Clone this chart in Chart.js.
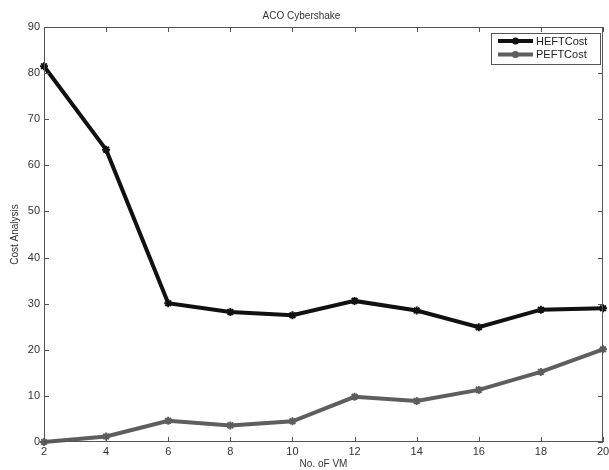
<!DOCTYPE html>
<html>
<head>
<meta charset="utf-8">
<script src="https://cdn.jsdelivr.net/npm/chart.js@4.4.1/dist/chart.umd.min.js"></script>
<style>
html,body{margin:0;padding:0;background:#fff;}
#wrap{width:609px;height:470px;}
</style>
</head>
<body>
<div id="wrap"><canvas id="c" width="609" height="470"></canvas></div>
<script>
const vmCounts = [2, 4, 6, 8, 10, 12, 14, 16, 18, 20];
const heftCost = [81.5, 63.4, 30.1, 28.2, 27.5, 30.6, 28.5, 24.9, 28.7, 29.0];
const peftCost = [0.0, 1.2, 4.6, 3.6, 4.5, 9.8, 8.9, 11.3, 15.2, 20.1];
const yTicks = [0, 10, 20, 30, 40, 50, 60, 70, 80, 90];
const xTicks = vmCounts;

const FONT = "'Liberation Sans', Arial, sans-serif";

const boxPlugin = {
  id: 'matlabBox',
  afterDatasetsDraw(chart) {
    const {ctx, chartArea: a, scales} = chart;
    ctx.save();
    ctx.strokeStyle = '#555';
    ctx.lineWidth = 1;
    ctx.strokeRect(a.left + 0.5, a.top + 0.5, a.right - a.left - 1, a.bottom - a.top - 1);
    const tl = 5;
    ctx.beginPath();
    xTicks.forEach(v => {
      const x = Math.round(scales.x.getPixelForValue(v)) + 0.5;
      ctx.moveTo(x, a.bottom); ctx.lineTo(x, a.bottom - tl);
      ctx.moveTo(x, a.top); ctx.lineTo(x, a.top + tl);
    });
    yTicks.forEach(v => {
      const y = Math.round(scales.y.getPixelForValue(v)) + 0.5;
      ctx.moveTo(a.left, y); ctx.lineTo(a.left + tl, y);
      ctx.moveTo(a.right, y); ctx.lineTo(a.right - tl, y);
    });
    ctx.stroke();

    // legend
    const lw = 109, lh = 31;
    const lx = a.right - lw - 3, ly = a.top + 6;
    ctx.fillStyle = '#fff';
    ctx.fillRect(lx, ly, lw, lh);
    ctx.strokeStyle = '#555';
    ctx.strokeRect(lx + 0.5, ly + 0.5, lw, lh);
    chart.data.datasets.forEach((ds, i) => {
      const y = ly + 8 + i * 13.5;
      ctx.strokeStyle = ds.borderColor;
      ctx.lineWidth = 4;
      ctx.beginPath();
      ctx.moveTo(lx + 7, y); ctx.lineTo(lx + 42, y);
      ctx.stroke();
      ctx.fillStyle = ds.borderColor;
      ctx.beginPath();
      ctx.arc(lx + 24.5, y, 3.5, 0, Math.PI * 2);
      ctx.fill();
      ctx.fillStyle = '#222';
      ctx.font = '11px ' + FONT;
      ctx.textBaseline = 'middle';
      ctx.textAlign = 'left';
      ctx.fillText(ds.label, lx + 45, y + 0.5);
    });
    ctx.restore();
  }
};

new Chart(document.getElementById('c'), {
  type: 'line',
  data: {
    datasets: [
      {
        label: 'HEFTCost',
        data: vmCounts.map((x, i) => ({x, y: heftCost[i]})),
        borderColor: '#111',
        backgroundColor: '#111',
        borderWidth: 4,
        pointStyle: 'star',
        pointRadius: 4,
        pointBorderWidth: 2,
        tension: 0
      },
      {
        label: 'PEFTCost',
        data: vmCounts.map((x, i) => ({x, y: peftCost[i]})),
        borderColor: '#5e5e5e',
        backgroundColor: '#5e5e5e',
        borderWidth: 4,
        pointStyle: 'star',
        pointRadius: 4,
        pointBorderWidth: 2,
        tension: 0
      }
    ]
  },
  options: {
    responsive: false,
    animation: false,
    clip: false,
    layout: {padding: {left: 0, right: 6, top: 0, bottom: 0}},
    plugins: {
      legend: {display: false},
      tooltip: {enabled: false},
      title: {
        display: true,
        text: 'ACO Cybershake',
        color: '#333',
        font: {family: FONT, size: 10, weight: 'normal'},
        padding: {top: 10, bottom: 5}
      }
    },
    scales: {
      x: {
        type: 'linear',
        min: 2, max: 20,
        afterBuildTicks(s) { s.ticks = xTicks.map(v => ({value: v})); },
        afterFit(s) { s.height = 28; s.paddingLeft = 0; s.paddingRight = 0; },
        grid: {display: false, drawTicks: false},
        border: {display: false},
        ticks: {color: '#333', font: {family: FONT, size: 11}, padding: 3, maxRotation: 0, autoSkip: false},
        title: {display: true, text: 'No. oF VM', color: '#333', font: {family: FONT, size: 10}, padding: {top: 0, bottom: 0}}
      },
      y: {
        type: 'linear',
        min: 0, max: 90,
        afterBuildTicks(s) { s.ticks = yTicks.map(v => ({value: v})); },
        afterFit(s) { s.width = 44; s.paddingTop = 0; s.paddingBottom = 0; },
        grid: {display: false, drawTicks: false},
        border: {display: false},
        ticks: {color: '#333', font: {family: FONT, size: 11}, padding: 4},
        title: {display: true, text: 'Cost Analysis', color: '#333', font: {family: FONT, size: 10}, padding: {top: 9, bottom: 0}}
      }
    }
  },
  plugins: [boxPlugin]
});
</script>
</body>
</html>
